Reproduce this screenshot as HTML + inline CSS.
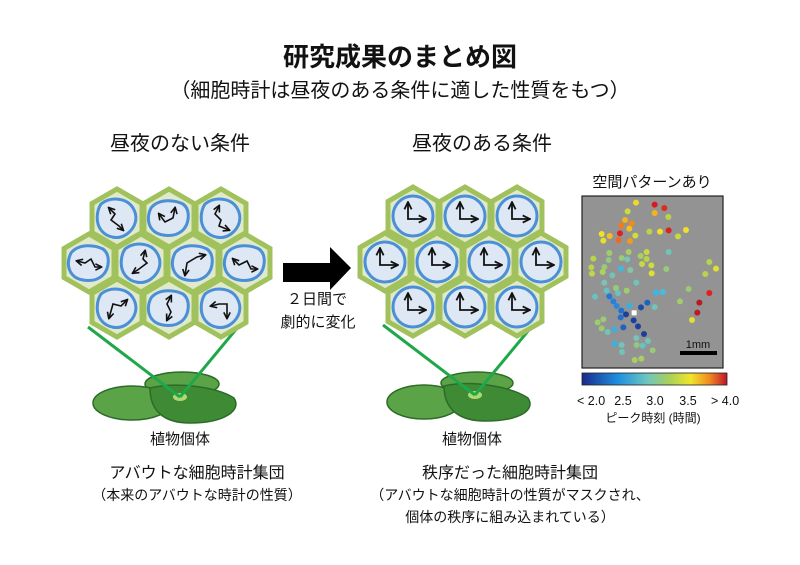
<!DOCTYPE html>
<html><head><meta charset="utf-8"><style>
html,body{margin:0;padding:0;background:#fff;}
svg{display:block;}
text{font-family:"Liberation Sans","Noto Sans CJK JP",sans-serif;fill:#111;}
</style></head><body>
<svg width="800" height="565" viewBox="0 0 800 565" xmlns="http://www.w3.org/2000/svg">
<defs>
<marker id="ah" viewBox="0 0 10 10" refX="8" refY="5" markerWidth="5" markerHeight="5" orient="auto-start-reverse"><path d="M1,1 L9,5 L1,9" fill="none" stroke="#111" stroke-width="2"/></marker>
<linearGradient id="cb" x1="0" x2="1" y1="0" y2="0">
<stop offset="0" stop-color="#1a2a8a"/><stop offset="0.25" stop-color="#1e90e0"/><stop offset="0.45" stop-color="#6ec6c0"/><stop offset="0.6" stop-color="#a8d05a"/><stop offset="0.75" stop-color="#f0e52a"/><stop offset="0.88" stop-color="#f08a20"/><stop offset="1" stop-color="#c0142a"/></linearGradient>
<g id="hex"><polygon points="0,-29 25,-14.5 25,14.5 0,29 -25,14.5 -25,-14.5" fill="#e0eacb" stroke="#a0c15c" stroke-width="5"/></g>
<g id="clock"><use href="#hex"/><circle cx="0" cy="0" r="20" fill="#dde8f4" stroke="#4a8fd8" stroke-width="3"/><path d="M-5,-13 L-5,3 L12,3" fill="none" stroke="#111" stroke-width="1.8" marker-start="url(#ah)" marker-end="url(#ah)"/></g>
<path id="b1" d="M-16,-14 C-6,-22 10,-20 16,-10 C22,0 18,10 10,16 C2,22 -10,20 -16,12 C-22,4 -20,-8 -16,-14Z" fill="#dde8f4" stroke="#4a8fd8" stroke-width="3"/>
<path id="b2" d="M-18,-10 C-10,-20 6,-18 14,-14 C22,-8 20,6 14,12 C6,20 -8,18 -14,14 C-22,8 -22,-2 -18,-10Z" fill="#dde8f4" stroke="#4a8fd8" stroke-width="3"/>
</defs>

<text x="400" y="66" font-size="26" text-anchor="middle" font-weight="bold">研究成果のまとめ図</text>
<text x="400" y="97" font-size="20" text-anchor="middle">（細胞時計は昼夜のある条件に適した性質をもつ）</text>
<text x="180" y="150" font-size="20" text-anchor="middle">昼夜のない条件</text>
<text x="482" y="150" font-size="20" text-anchor="middle">昼夜のある条件</text>

<ellipse cx="182" cy="384" rx="37" ry="12" fill="#5aa447" stroke="#2d6b28" stroke-width="1.5"/>
<ellipse cx="132" cy="403" rx="39" ry="17" fill="#5aa447" stroke="#2d6b28" stroke-width="1.5"/>
<path d="M150,388 C175,382 215,386 234,398 C242,410 225,423 190,423 C165,423 150,412 150,388Z" fill="#3e8a35" stroke="#2d6b28" stroke-width="1.5"/>
<ellipse cx="180" cy="397" rx="7" ry="4" fill="#b0d870"/>
<line x1="88" y1="327" x2="180" y2="397" stroke="#1fa84a" stroke-width="3"/>
<line x1="238" y1="327" x2="180" y2="397" stroke="#1fa84a" stroke-width="3"/>

<ellipse cx="477" cy="383" rx="36" ry="11" fill="#5aa447" stroke="#2d6b28" stroke-width="1.5"/>
<ellipse cx="424" cy="402" rx="37" ry="17" fill="#5aa447" stroke="#2d6b28" stroke-width="1.5"/>
<path d="M444,386 C470,380 510,386 528,398 C536,410 520,421 485,421 C460,421 444,410 444,386Z" fill="#3e8a35" stroke="#2d6b28" stroke-width="1.5"/>
<ellipse cx="475" cy="395" rx="7" ry="4" fill="#b0d870"/>
<line x1="383" y1="325" x2="475" y2="395" stroke="#1fa84a" stroke-width="3"/>
<line x1="533" y1="325" x2="475" y2="395" stroke="#1fa84a" stroke-width="3"/>

<g>
<g transform="translate(117,218)"><use href="#hex"/><use href="#b1"/><polyline points="-8,-10 -2,-4 -6,2 2,8 6,12" fill="none" stroke="#111" stroke-width="1.6" marker-start="url(#ah)" marker-end="url(#ah)"/></g>
<g transform="translate(169,218)"><use href="#hex"/><use href="#b2"/><polyline points="-10,-4 -4,4 4,0 6,-10" fill="none" stroke="#111" stroke-width="1.6" marker-start="url(#ah)" marker-end="url(#ah)"/></g>
<g transform="translate(221,218)"><use href="#hex"/><use href="#b1"/><polyline points="-2,-12 -6,-4 0,2 -2,8 8,12" fill="none" stroke="#111" stroke-width="1.6" marker-start="url(#ah)" marker-end="url(#ah)"/></g>
<g transform="translate(89,263)"><use href="#hex"/><use href="#b2"/><polyline points="-12,-2 -4,0 2,-4 6,4 12,4" fill="none" stroke="#111" stroke-width="1.6" marker-start="url(#ah)" marker-end="url(#ah)"/></g>
<g transform="translate(141,263)"><use href="#hex"/><use href="#b1"/><polyline points="4,-12 2,-4 6,0 -2,6 -8,10" fill="none" stroke="#111" stroke-width="1.6" marker-start="url(#ah)" marker-end="url(#ah)"/></g>
<g transform="translate(193,263)"><use href="#hex"/><use href="#b2"/><polyline points="-8,12 -6,0 4,-6 12,-8" fill="none" stroke="#111" stroke-width="1.6" marker-start="url(#ah)" marker-end="url(#ah)"/></g>
<g transform="translate(245,263)"><use href="#hex"/><use href="#b2"/><polyline points="-12,-4 -6,2 2,-2 6,6 12,6" fill="none" stroke="#111" stroke-width="1.6" marker-start="url(#ah)" marker-end="url(#ah)"/></g>
<g transform="translate(117,308)"><use href="#hex"/><use href="#b1"/><polyline points="-8,10 -4,-4 4,-2 10,-8" fill="none" stroke="#111" stroke-width="1.6" marker-start="url(#ah)" marker-end="url(#ah)"/></g>
<g transform="translate(169,308)"><use href="#hex"/><use href="#b2"/><polyline points="2,-12 -2,-4 2,4 -2,12" fill="none" stroke="#111" stroke-width="1.6" marker-start="url(#ah)" marker-end="url(#ah)"/></g>
<g transform="translate(221,308)"><use href="#hex"/><use href="#b1"/><polyline points="-10,-2 -2,-4 6,-4 6,10" fill="none" stroke="#111" stroke-width="1.6" marker-start="url(#ah)" marker-end="url(#ah)"/></g>
</g>

<use href="#clock" x="413" y="216"/><use href="#clock" x="465" y="216"/><use href="#clock" x="517" y="216"/>
<use href="#clock" x="385" y="262"/><use href="#clock" x="437" y="262"/><use href="#clock" x="489" y="262"/><use href="#clock" x="541" y="262"/>
<use href="#clock" x="413" y="307"/><use href="#clock" x="465" y="307"/><use href="#clock" x="517" y="307"/>

<polygon points="283,263 330,263 330,247 351,268 330,290 330,282 283,282" fill="#000"/>
<text x="317" y="304" font-size="15" text-anchor="middle">２日間で</text>
<text x="318" y="327" font-size="15" text-anchor="middle">劇的に変化</text>

<text x="180" y="444" font-size="15" text-anchor="middle">植物個体</text>
<text x="472" y="444" font-size="15" text-anchor="middle">植物個体</text>
<text x="197" y="478" font-size="16" text-anchor="middle">アバウトな細胞時計集団</text>
<text x="197" y="500" font-size="14" text-anchor="middle">（本来のアバウトな時計の性質）</text>
<text x="510" y="478" font-size="16" text-anchor="middle">秩序だった細胞時計集団</text>
<text x="510" y="500" font-size="14" text-anchor="middle">（アバウトな細胞時計の性質がマスクされ、</text>
<text x="510" y="522" font-size="14" text-anchor="middle">個体の秩序に組み込まれている）</text>

<text x="652" y="187" font-size="15" text-anchor="middle">空間パターンあり</text>
<rect x="582" y="196" width="141" height="172" fill="#939393" stroke="#222" stroke-width="1.2"/>
<g transform="translate(560,170) scale(0.3333)">
<g stroke="none">
<circle cx="228" cy="98" r="9" fill="#f0d82a"/><circle cx="284" cy="104" r="9" fill="#d81a20"/><circle cx="313" cy="114" r="9" fill="#e02a1e"/><circle cx="203" cy="124" r="9" fill="#cddc3a"/><circle cx="284" cy="129" r="9" fill="#f5b41e"/><circle cx="325" cy="141" r="9" fill="#b8d44a"/><circle cx="195" cy="150" r="9" fill="#f5b41e"/><circle cx="184" cy="166" r="9" fill="#f07a1e"/><circle cx="215" cy="160" r="9" fill="#f08a1e"/><circle cx="208" cy="176" r="9" fill="#f3c020"/><circle cx="125" cy="192" r="9" fill="#f0e02a"/><circle cx="149" cy="198" r="9" fill="#f5c01e"/><circle cx="180" cy="190" r="9" fill="#e02020"/><circle cx="130" cy="212" r="9" fill="#e6e02a"/><circle cx="175" cy="210" r="9" fill="#f06a1e"/><circle cx="210" cy="213" r="9" fill="#f09a1e"/><circle cx="226" cy="197" r="9" fill="#d0dc3a"/><circle cx="268" cy="185" r="9" fill="#b8d44a"/><circle cx="300" cy="185" r="9" fill="#f0e02a"/><circle cx="326" cy="181" r="9" fill="#e02020"/><circle cx="354" cy="199" r="9" fill="#c8d840"/><circle cx="378" cy="180" r="9" fill="#f0e02a"/>
<circle cx="148" cy="249" r="9" fill="#a0cc70"/><circle cx="206" cy="246" r="9" fill="#a8d060"/><circle cx="260" cy="246" r="9" fill="#c8d840"/><circle cx="326" cy="246" r="9" fill="#70c4b8"/><circle cx="100" cy="266" r="9" fill="#b8d44a"/><circle cx="146" cy="270" r="9" fill="#90c880"/><circle cx="185" cy="264" r="9" fill="#98ca78"/><circle cx="202" cy="268" r="9" fill="#78c4b8"/><circle cx="242" cy="258" r="9" fill="#a8d060"/><circle cx="260" cy="267" r="9" fill="#b8d44a"/><circle cx="274" cy="286" r="9" fill="#d0dc3a"/><circle cx="246" cy="282" r="9" fill="#c8d840"/><circle cx="94" cy="292" r="9" fill="#b8d44a"/><circle cx="133" cy="291" r="9" fill="#98ca78"/><circle cx="183" cy="296" r="9" fill="#40b8e0"/><circle cx="211" cy="300" r="9" fill="#80c6a8"/><circle cx="96" cy="311" r="9" fill="#c0d648"/><circle cx="128" cy="306" r="9" fill="#b0d258"/><circle cx="157" cy="316" r="9" fill="#70c4b8"/><circle cx="319" cy="297" r="9" fill="#98ca78"/><circle cx="275" cy="310" r="9" fill="#e0e030"/><circle cx="448" cy="276" r="9" fill="#b8d44a"/><circle cx="468" cy="296" r="9" fill="#e0e030"/><circle cx="436" cy="312" r="9" fill="#b8d44a"/>
<circle cx="133" cy="338" r="9" fill="#78c4b8"/><circle cx="229" cy="338" r="9" fill="#70c4b8"/><circle cx="168" cy="354" r="9" fill="#98ca78"/><circle cx="200" cy="362" r="9" fill="#a0cc70"/><circle cx="140" cy="362" r="9" fill="#68c2c0"/><circle cx="174" cy="369" r="9" fill="#68c2c0"/><circle cx="105" cy="380" r="9" fill="#68c2c0"/><circle cx="148" cy="379" r="9" fill="#2078d0"/><circle cx="160" cy="394" r="9" fill="#2a80d8"/><circle cx="170" cy="408" r="9" fill="#2a88dc"/><circle cx="208" cy="407" r="9" fill="#38b0e0"/><circle cx="243" cy="412" r="9" fill="#1e4aa8"/><circle cx="262" cy="398" r="9" fill="#2060c0"/><circle cx="284" cy="411" r="9" fill="#70c4b8"/><circle cx="288" cy="368" r="9" fill="#38b8e8"/><circle cx="308" cy="366" r="9" fill="#48bce0"/><circle cx="386" cy="357" r="9" fill="#98ca78"/><circle cx="448" cy="369" r="9" fill="#e02020"/><circle cx="360" cy="394" r="9" fill="#a0cc70"/><circle cx="418" cy="398" r="9" fill="#b81a22"/><circle cx="412" cy="428" r="9" fill="#c01a22"/><circle cx="396" cy="450" r="9" fill="#e0e030"/>
<circle cx="184" cy="422" r="9" fill="#2070cc"/><circle cx="198" cy="433" r="9" fill="#1e3e9c"/><rect x="215" y="421" width="15" height="15" fill="#fff"/><circle cx="182" cy="442" r="9" fill="#2070cc"/><circle cx="221" cy="451" r="9" fill="#1e3e9c"/><circle cx="234" cy="469" r="9" fill="#1e3e9c"/><circle cx="190" cy="472" r="9" fill="#2060c0"/><circle cx="163" cy="478" r="9" fill="#38b0e0"/><circle cx="252" cy="492" r="9" fill="#1e3e9c"/><circle cx="130" cy="448" r="9" fill="#98ca78"/><circle cx="113" cy="457" r="9" fill="#a0cc70"/><circle cx="125" cy="475" r="9" fill="#98ca78"/><circle cx="143" cy="486" r="9" fill="#70c4b8"/><circle cx="165" cy="521" r="9" fill="#38b0e0"/><circle cx="185" cy="525" r="9" fill="#70c4b8"/><circle cx="229" cy="504" r="9" fill="#78c4b8"/><circle cx="264" cy="513" r="9" fill="#70c4b8"/><circle cx="230" cy="525" r="9" fill="#90c880"/><circle cx="248" cy="527" r="9" fill="#68c2c0"/><circle cx="278" cy="541" r="9" fill="#98ca78"/><circle cx="186" cy="546" r="9" fill="#70c4b8"/><circle cx="224" cy="570" r="9" fill="#a8d060"/><circle cx="244" cy="566" r="9" fill="#a8d060"/>
</g>
</g>
<rect x="680" y="351" width="37" height="4" fill="#000"/>
<text x="698" y="348" font-size="11" text-anchor="middle">1mm</text>
<rect x="582" y="373" width="145" height="12" fill="url(#cb)" stroke="#222" stroke-width="0.8"/>
<text x="577" y="405" font-size="12.5">&lt; 2.0</text>
<text x="623" y="405" font-size="12.5" text-anchor="middle">2.5</text>
<text x="655" y="405" font-size="12.5" text-anchor="middle">3.0</text>
<text x="688" y="405" font-size="12.5" text-anchor="middle">3.5</text>
<text x="711" y="405" font-size="12.5">&gt; 4.0</text>
<text x="653" y="422" font-size="12" text-anchor="middle">ピーク時刻 (時間)</text>
</svg>
</body></html>
